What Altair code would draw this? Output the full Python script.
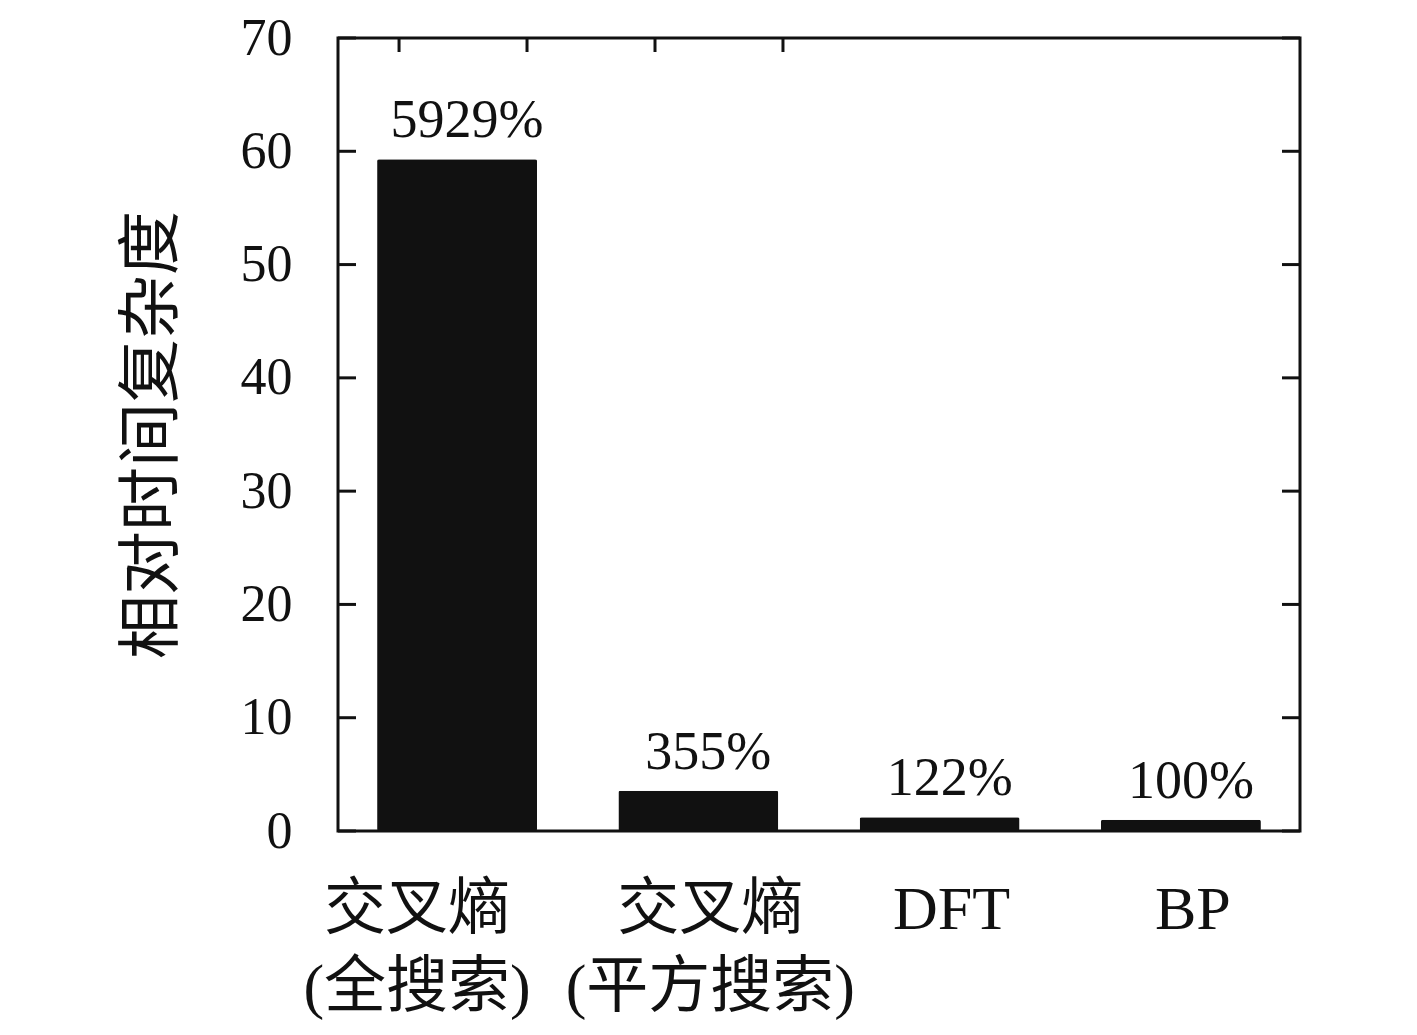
import altair as alt
import pandas as pd

categories = ["交叉熵 (全搜索)", "交叉熵 (平方搜索)", "DFT", "BP"]
values = [59.29, 3.55, 1.22, 1.00]
labels = ["5929%", "355%", "122%", "100%"]
y_ticks = [0, 10, 20, 30, 40, 50, 60, 70]
top_ticks = [0, 1, 2, 3]

W, H = 962, 793
SERIF = "Liberation Serif, Noto Sans CJK SC"
CJK = "Noto Sans CJK SC"

df = pd.DataFrame({"cat": categories, "val": values, "lab": labels})
ydf = pd.DataFrame({"t": y_ticks})
tdf = pd.DataFrame({"t": top_ticks})

yscale = alt.Scale(domain=[0, 70], nice=False, zero=True)
xscale = alt.Scale(paddingInner=0.337, paddingOuter=0.162)

label_shift = {
    "condition": {"test": f"datum.value === '{categories[0]}'", "value": -40},
    "value": 12,
}

bars = alt.Chart(df).mark_bar(color="#111111", cornerRadius=2).encode(
    x=alt.X("cat:N", sort=categories, scale=xscale,
            axis=alt.Axis(title=None, labelAngle=0, labelFontSize=62, labelFont=SERIF,
                          labelColor="#111111", labelPadding=48, tickSize=0, domain=False,
                          labelLineHeight=78, labelBaseline="top", labelLimit=0,
                          labelOffset=label_shift,
                          labelExpr="split(datum.label, ' ')")),
    y=alt.Y("val:Q", scale=yscale,
            axis=alt.Axis(values=y_ticks, title="相对时间复杂度", titleFont=CJK,
                          titleFontSize=64, titleFontWeight="normal", titleColor="#111111",
                          titlePadding=56, labelFont=SERIF, labelFontSize=52,
                          labelColor="#111111", labelPadding=46, tickSize=0,
                          domain=False, grid=False)),
)

text = alt.Chart(df).mark_text(font=SERIF, fontSize=54, color="#111111",
                               baseline="alphabetic", dy=-22, dx=10).encode(
    x=alt.X("cat:N", sort=categories, scale=xscale),
    y=alt.Y("val:Q", scale=yscale),
    text="lab:N",
)

left_ticks = alt.Chart(ydf).mark_rule(color="#111111", strokeWidth=3).encode(
    y=alt.Y("t:Q", scale=yscale), x=alt.value(0), x2=alt.value(18))
right_ticks = alt.Chart(ydf).mark_rule(color="#111111", strokeWidth=3).encode(
    y=alt.Y("t:Q", scale=yscale), x=alt.value(W - 18), x2=alt.value(W))

top = alt.Chart(tdf).mark_rule(color="#111111", strokeWidth=3).encode(
    x=alt.X("t:Q", scale=alt.Scale(domain=[-0.477, 7.04], nice=False, zero=False), axis=None),
    y=alt.value(0), y2=alt.value(14))

base = alt.layer(bars, text, left_ticks, right_ticks)
chart = alt.layer(base, top).resolve_scale(x="independent").properties(
    width=W, height=H,
    autosize=alt.AutoSizeParams(type="none"),
    padding={"left": 330, "top": 30, "right": 100, "bottom": 200},
).configure(background="white").configure_view(stroke="#111111", strokeWidth=3)

chart.save("out.html", embed_options={"renderer": "svg", "actions": False})
